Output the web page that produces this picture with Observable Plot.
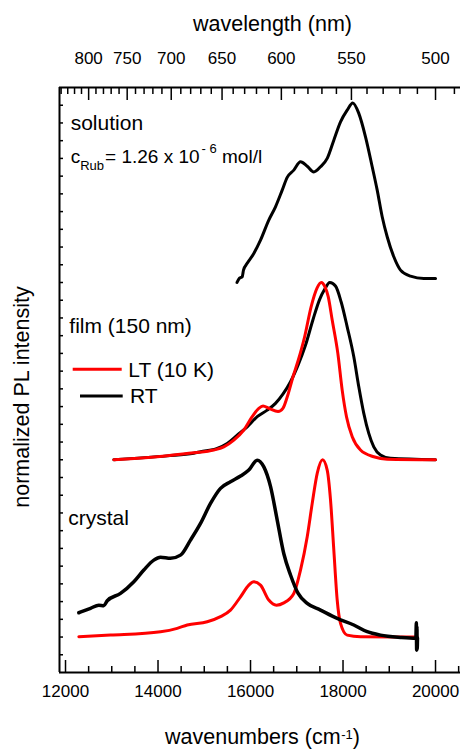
<!DOCTYPE html>
<html><head><meta charset="utf-8">
<script src="https://cdn.jsdelivr.net/npm/d3@7"></script>
<script src="https://cdn.jsdelivr.net/npm/@observablehq/plot@0.6"></script>
<style>
body{margin:0;background:#fff}
svg{display:block}
</style>
</head><body><div id="chart"></div>
<script>
// ---- data (wavenumber in cm^-1, normalized PL intensity) ----
const solutionWn = [15708,15762,15820,15848,15928,16071,16216,16395,16540,16685,16793,16936,17081,17226,17368,17513,17658,17801,17946,18090,18211,18341,18486,18631,18739,18847,18955,19098,19243,19459,19746,20000];
const solutionI  = [0.0,0.025,0.032,0.07,0.108,0.164,0.239,0.352,0.427,0.521,0.593,0.634,0.681,0.656,0.624,0.653,0.700,0.803,0.906,0.972,1.013,0.954,0.822,0.653,0.521,0.371,0.258,0.145,0.070,0.036,0.023,0.023];

const filmLTWn = [13044,14199,14774,15206,15422,15639,15855,16036,16179,16270,16400,16595,16700,16800,16920,17030,17170,17310,17440,17530,17610,17680,17766,17888,17982,18075,18199,18378,18665,18955,20000];
const filmLTI  = [0.0,0.023,0.039,0.055,0.073,0.111,0.168,0.243,0.290,0.303,0.290,0.272,0.290,0.36,0.47,0.56,0.694,0.863,0.97,1.0,0.975,0.92,0.788,0.600,0.393,0.243,0.130,0.055,0.017,0.003,0.0];

const filmRTWn = [13044,14199,14774,14919,15280,15496,15712,15928,16145,16361,16540,16700,16865,17030,17190,17350,17495,17600,17714,17837,17960,18090,18233,18341,18449,18557,18665,18810,19026,20000];
const filmRTI  = [0.0,0.022,0.037,0.045,0.064,0.092,0.139,0.186,0.243,0.280,0.318,0.37,0.44,0.535,0.647,0.79,0.905,0.96,1.0,0.98,0.89,0.75,0.581,0.412,0.262,0.149,0.073,0.027,0.008,0.0];

const crystalRTWn = [12288,12541,12720,12828,12902,13189,13477,13693,13909,14054,14270,14486,14702,14919,15135,15351,15567,15784,15963,16145,16288,16432,16577,16720,16865,17030,17226,17513,17874,18233,18523,18810,19243,19575,19585,19592,19598,19604,19610];
const crystalRTI  = [0.137,0.162,0.180,0.177,0.205,0.246,0.312,0.378,0.434,0.450,0.444,0.462,0.547,0.641,0.754,0.839,0.876,0.908,0.942,0.998,0.960,0.85,0.66,0.47,0.35,0.246,0.190,0.152,0.105,0.068,0.030,0.011,-0.002,-0.007,0.08,-0.075,0.06,-0.07,-0.005];

const crystalLTWn = [12288,12973,14054,14415,14632,15064,15351,15567,15784,15963,16071,16216,16395,16560,16720,16936,17081,17226,17334,17442,17557,17658,17730,17801,17874,17946,18090,18378,19604];
const crystalLTI  = [0.002,0.011,0.030,0.049,0.068,0.086,0.115,0.152,0.227,0.293,0.312,0.293,0.209,0.180,0.193,0.246,0.378,0.566,0.754,0.923,1.0,0.942,0.773,0.491,0.209,0.077,0.011,0.002,0.0];

// vertical offsets of the stacked spectra
const offsets = {crystal: 0, film: 1, solution: 2};

// ---- ticks ----
const wnMajorTicks = [12000,14000,16000,18000,20000];
const wnMinorTicks = [12500,13000,13500,14500,15000,15500,16500,17000,17500,18500,19000,19500,20500];
const wlMajorTicks = [800,750,700,650,600,550,500];
const wlMinorTicks = [840,830,820,810,790,780,770,760,740,730,720,710,690,680,670,660,640,630,620,610,590,580,570,560,540,530,520,510,490];
const yTicks = d3.range(-1, 31).map(i => i / 10);

const xDomain = [11870, 20540];
const yDomain = [-0.2, 3.1];

const FONT = "'Liberation Sans', Arial, Helvetica, sans-serif";

const toRows = (wn, I, off) => wn.map((x, i) => ({x, y: I[i] + off}));
const solution  = toRows(solutionWn, solutionI, offsets.solution);
const filmLT    = toRows(filmLTWn, filmLTI, offsets.film);
const filmRT    = toRows(filmRTWn, filmRTI, offsets.film);
const crystalLT = toRows(crystalLTWn, crystalLTI, offsets.crystal);
const crystalRT = toRows(crystalRTWn, crystalRTI, offsets.crystal);

const lineOpts = (stroke, w = 3) => ({x: "x", y: "y", stroke, strokeWidth: w, curve: "monotone-x"});
const nm = d => 1e7 / d;

const plot = Plot.plot({
  width: 460, height: 749,
  marginLeft: 59, marginRight: 0, marginTop: 87, marginBottom: 77,
  x: {domain: xDomain, axis: null},
  y: {domain: yDomain, axis: null},
  style: {fontFamily: FONT, fontSize: "17px", color: "#000", background: "#fff"},
  marks: [
    Plot.axisX({anchor: "bottom", ticks: wnMinorTicks, tickSize: -6, tickFormat: () => "", label: null, strokeWidth: 1.5}),
    Plot.axisX({anchor: "bottom", ticks: wnMajorTicks, tickSize: -12, tickFormat: () => "", label: null, strokeWidth: 1.5}),
    Plot.axisX({anchor: "bottom", ticks: wnMajorTicks, tickSize: 0, tickPadding: 12.6, tickFormat: d => String(d), label: null}),
    Plot.axisX({anchor: "top", ticks: wlMinorTicks.map(nm), tickSize: -6, tickFormat: () => "", label: null, strokeWidth: 1.5}),
    Plot.axisX({anchor: "top", ticks: wlMajorTicks.map(nm), tickSize: -12, tickFormat: () => "", label: null, strokeWidth: 1.5}),
    Plot.axisX({anchor: "top", ticks: wlMajorTicks.map(nm), tickSize: 0, tickPadding: 23.7, tickFormat: d => String(Math.round(nm(d))), label: null}),
    Plot.axisY({anchor: "left", ticks: yTicks, tickSize: -4, tickFormat: () => "", label: null, strokeWidth: 1.5}),
    Plot.ruleX([xDomain[0]], {strokeWidth: 2}),
    Plot.ruleY([yDomain[0], yDomain[1]], {strokeWidth: 2}),
    Plot.line(crystalLT, lineOpts("#ff0000")),
    Plot.line(crystalRT, lineOpts("#000000", 3.5)),
    Plot.line(filmRT, lineOpts("#000000")),
    Plot.line(filmLT, lineOpts("#ff0000")),
    Plot.line(solution, lineOpts("#000000"))
  ]
});

document.getElementById("chart").appendChild(plot);

// ---- texts (annotations, legend, axis titles) ----
const svg = d3.select(plot);
const g = svg.append("g").attr("font-family", FONT).attr("fill", "#000");

function addText(x, y, size, parts, anchor = "start", transform = null) {
  const t = g.append("text").attr("x", x).attr("y", y).attr("font-size", size).attr("text-anchor", anchor);
  if (transform) t.attr("transform", transform).attr("x", 0).attr("y", 0);
  parts.forEach(p => {
    const s = t.append("tspan").text(p.t);
    if (p.size) s.attr("font-size", p.size);
    if (p.dy) s.attr("dy", p.dy);
    if (p.dx) s.attr("dx", p.dx);
  });
  return t;
}

addText(272.5, 31, 21.5, [{t: "wavelength (nm)"}], "middle");
addText(165, 743.5, 21.5, [{t: "wavenumbers (cm"}, {t: "-1", size: 13, dy: -5, dx: 0.5}, {t: ")", dy: 5}]);
addText(0, 0, 21.5, [{t: "normalized PL intensity"}], "middle", "translate(29,397) rotate(-90)");

addText(70.7, 130, 21, [{t: "solution"}]);
addText(70.7, 162.7, 19, [
  {t: "c"}, {t: "Rub", size: 13, dy: 7}, {t: "= 1.26 x 10", dy: -7, dx: 1},
  {t: "- 6", size: 13, dy: -9.5, dx: 2}, {t: " mol/l", dy: 9.5}
]);
addText(69.3, 333, 21, [{t: "film (150 nm)"}]);
addText(68.3, 524.5, 21, [{t: "crystal"}]);

// legend
const legend = [
  {label: "LT (10 K)", color: "#ff0000", x1: 72.7, x2: 121.7, y: 369.3, tx: 128.3, ty: 377.3},
  {label: "RT", color: "#000000", x1: 80, x2: 122.7, y: 396, tx: 130, ty: 402.7}
];
legend.forEach(d => {
  g.append("line").attr("x1", d.x1).attr("x2", d.x2).attr("y1", d.y).attr("y2", d.y)
    .attr("stroke", d.color).attr("stroke-width", 3);
  addText(d.tx, d.ty, 21, [{t: d.label}]);
});
</script>
</body></html>
